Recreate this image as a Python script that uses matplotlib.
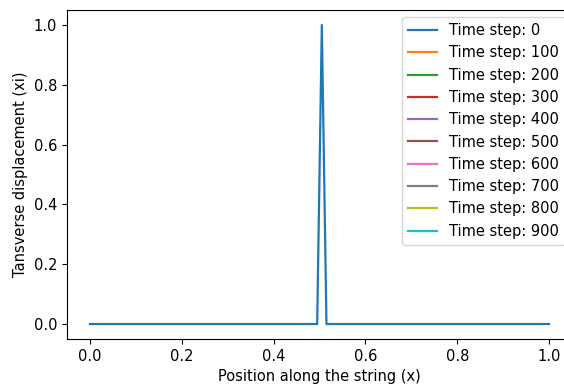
import numpy as np
import matplotlib
matplotlib.use('Agg')
import matplotlib.pyplot as plt

# %% data: string positions and displacement snapshots
x = np.linspace(0, 1, 100)
xi_0 = np.zeros(100)
xi_0[50] = 1.0

time_steps = [0, 100, 200, 300, 400, 500, 600, 700, 800, 900]
# only the initial pulse shows up; later snapshots carry no drawable values
snapshots = [xi_0] + [np.full(100, np.nan) for _ in time_steps[1:]]

# %% plot
plt.rcParams['font.size'] = 10.5
plt.rcParams['lines.linewidth'] = 1.6

fig = plt.figure(figsize=(5.64, 3.87), dpi=100)
# axes run slightly past the right edge, as in the (cropped) original
ax = fig.add_axes([67/564, 1 - 339/387, 505/564, 329/387])

for t, xi in zip(time_steps, snapshots):
    ax.plot(x, xi, label='Time step: ' + str(t))

ax.set_xlabel('Position along the string (x)')
ax.set_ylabel('Tansverse displacement (xi)')
ax.legend(loc='upper right')

fig.savefig('out.png', dpi=100)
